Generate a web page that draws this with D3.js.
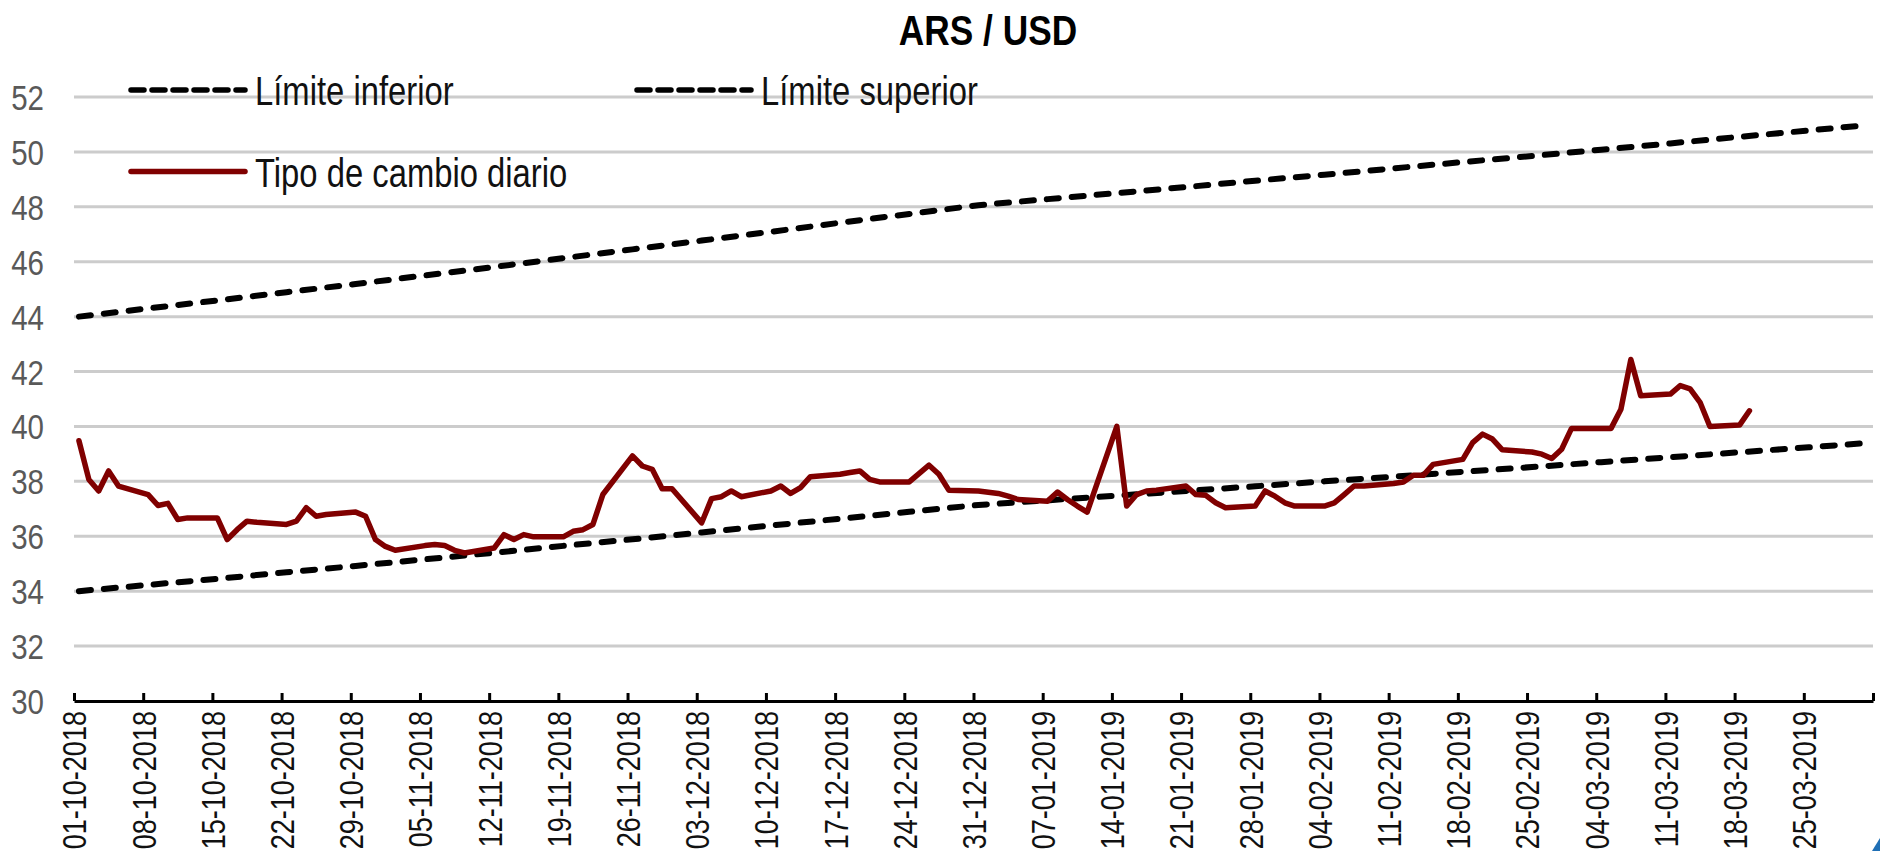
<!DOCTYPE html>
<html>
<head>
<meta charset="utf-8">
<script src="https://cdn.jsdelivr.net/npm/d3@7"></script>
<style>
html,body{margin:0;padding:0;background:#fff;}
svg{display:block;}
text{font-family:"Liberation Sans",Arial,"Noto Sans",sans-serif;}
</style>
</head>
<body>
<svg id="chart" width="1880" height="851"></svg>
<script>
// ---------- DATA ----------
const chartTitle = "ARS / USD";
const seriesNames = ["Límite inferior", "Límite superior", "Tipo de cambio diario"];

const rateDates = ["01-10-2018","02-10-2018","03-10-2018","04-10-2018","05-10-2018",
"08-10-2018","09-10-2018","10-10-2018","11-10-2018","12-10-2018",
"15-10-2018","16-10-2018","17-10-2018","18-10-2018","19-10-2018",
"22-10-2018","23-10-2018","24-10-2018","25-10-2018","26-10-2018",
"29-10-2018","30-10-2018","31-10-2018","01-11-2018","02-11-2018",
"05-11-2018","06-11-2018","07-11-2018","08-11-2018","09-11-2018",
"12-11-2018","13-11-2018","14-11-2018","15-11-2018","16-11-2018",
"19-11-2018","20-11-2018","21-11-2018","22-11-2018","23-11-2018",
"26-11-2018","27-11-2018","28-11-2018","29-11-2018","30-11-2018",
"03-12-2018","04-12-2018","05-12-2018","06-12-2018","07-12-2018",
"10-12-2018","11-12-2018","12-12-2018","13-12-2018","14-12-2018",
"17-12-2018","18-12-2018","19-12-2018","20-12-2018","21-12-2018",
"24-12-2018","26-12-2018","27-12-2018","28-12-2018",
"31-12-2018","02-01-2019","03-01-2019","04-01-2019",
"07-01-2019","08-01-2019","09-01-2019","10-01-2019","11-01-2019",
"14-01-2019","15-01-2019","16-01-2019","17-01-2019","18-01-2019",
"21-01-2019","22-01-2019","23-01-2019","24-01-2019","25-01-2019",
"28-01-2019","29-01-2019","30-01-2019","31-01-2019","01-02-2019",
"04-02-2019","05-02-2019","06-02-2019","07-02-2019","08-02-2019",
"11-02-2019","12-02-2019","13-02-2019","14-02-2019","15-02-2019",
"18-02-2019","19-02-2019","20-02-2019","21-02-2019","22-02-2019",
"25-02-2019","26-02-2019","27-02-2019","28-02-2019","01-03-2019",
"04-03-2019","05-03-2019","06-03-2019","07-03-2019","08-03-2019",
"11-03-2019","12-03-2019","13-03-2019","14-03-2019","15-03-2019",
"18-03-2019","19-03-2019"];

const rateValues = [39.48,38.07,37.65,38.38,37.83,
37.52,37.12,37.20,36.61,36.67,
36.67,35.88,36.24,36.55,36.51,
36.43,36.55,37.04,36.73,36.79,
36.88,36.73,35.88,35.63,35.49,
35.66,35.70,35.66,35.49,35.39,
35.57,36.06,35.88,36.06,35.98,
35.98,36.18,36.24,36.43,37.52,
38.93,38.56,38.44,37.73,37.73,
36.49,37.37,37.44,37.65,37.44,
37.65,37.83,37.56,37.77,38.17,
38.26,38.32,38.38,38.07,37.98,
37.98,38.59,38.26,37.68,
37.65,37.56,37.46,37.34,
37.28,37.61,37.34,37.10,36.88,
40.00,37.10,37.52,37.65,37.68,
37.83,37.52,37.49,37.22,37.04,
37.10,37.65,37.46,37.22,37.10,
37.10,37.22,37.52,37.83,37.83,
37.92,37.98,38.22,38.22,38.62,
38.80,39.41,39.72,39.54,39.15,
39.07,38.99,38.83,39.17,39.93,
39.93,39.93,40.63,42.44,41.12,
41.18,41.49,41.37,40.88,40.00,
40.05,40.57];

const bandDates = ["01-10-2018","08-10-2018","15-10-2018","22-10-2018","29-10-2018",
"05-11-2018","12-11-2018","19-11-2018","26-11-2018","03-12-2018","10-12-2018",
"17-12-2018","24-12-2018","31-12-2018","07-01-2019","14-01-2019","21-01-2019",
"28-01-2019","04-02-2019","11-02-2019","18-02-2019","25-02-2019","04-03-2019",
"11-03-2019","18-03-2019","25-03-2019","31-03-2019"];
const lowerBand = [34.00,34.23,34.45,34.69,34.92,35.16,35.40,35.65,35.89,36.14,36.39,
36.64,36.89,37.14,37.31,37.48,37.65,37.82,38.00,38.17,38.35,38.52,38.70,38.88,39.06,39.24,39.40];
const upperBand = [44.00,44.30,44.59,44.89,45.19,45.50,45.81,46.13,46.45,46.77,47.09,
47.42,47.74,48.06,48.28,48.50,48.72,48.95,49.17,49.40,49.63,49.85,50.08,50.31,50.55,50.78,50.98];

const yTickValues = [30,32,34,36,38,40,42,44,46,48,50,52];
const xTickLabels = ["01-10-2018","08-10-2018","15-10-2018","22-10-2018","29-10-2018",
"05-11-2018","12-11-2018","19-11-2018","26-11-2018","03-12-2018","10-12-2018",
"17-12-2018","24-12-2018","31-12-2018","07-01-2019","14-01-2019","21-01-2019",
"28-01-2019","04-02-2019","11-02-2019","18-02-2019","25-02-2019","04-03-2019",
"11-03-2019","18-03-2019","25-03-2019"];
const axisStart = "01-10-2018";
const axisEnd = "01-04-2019";

// ---------- CHART ----------
const NARROW = 0.82; // Arial Narrow ≈ Arial compressed horizontally
const parse = d3.utcParse("%d-%m-%Y");
const svg = d3.select("#chart");
const L = 74, R = 1873, T = 97, B = 701;

const x = d3.scaleUtc().domain([parse(axisStart), parse(axisEnd)]).range([L, R]);
const y = d3.scaleLinear().domain([30, 52]).range([B, T]);
const mid = d => d3.utcHour.offset(parse(d), 12);

// gridlines
svg.append("g").selectAll("line")
  .data(yTickValues.filter(v => v > 30))
  .join("line")
  .attr("x1", L).attr("x2", R)
  .attr("y1", d => y(d)).attr("y2", d => y(d))
  .attr("stroke", "#cccccc").attr("stroke-width", 3);

// y labels
svg.append("g").selectAll("text")
  .data(yTickValues)
  .join("text")
  .attr("transform", d => `translate(44,${y(d)}) scale(${NARROW},1)`)
  .attr("dy", "0.36em")
  .attr("text-anchor", "end")
  .attr("font-size", 36).attr("fill", "#595959")
  .text(d => d);

// band lines
const bandLine = d3.line()
  .x((d, i) => x(mid(bandDates[i])))
  .y(d => y(d));
[lowerBand, upperBand].forEach(arr => {
  svg.append("path").datum(arr)
    .attr("d", bandLine)
    .attr("fill", "none").attr("stroke", "#000").attr("stroke-width", 6)
    .attr("stroke-dasharray", "12,13").attr("stroke-linecap", "round");
});

// rate line
const rateLine = d3.line()
  .x((d, i) => x(mid(rateDates[i])))
  .y(d => y(d));
svg.append("path").datum(rateValues)
  .attr("d", rateLine)
  .attr("fill", "none").attr("stroke", "#800000").attr("stroke-width", 5.5)
  .attr("stroke-linejoin", "round").attr("stroke-linecap", "round");

// x axis
const tickDates = xTickLabels.map(parse).concat([parse(axisEnd)]);
const xAxis = d3.axisBottom(x)
  .tickValues(tickDates)
  .tickSize(-8).tickSizeOuter(0)
  .tickFormat((d, i) => i < xTickLabels.length ? xTickLabels[i] : "");
const gx = svg.append("g").attr("transform", `translate(0,${B})`).call(xAxis);
gx.select(".domain").attr("stroke", "#000").attr("stroke-width", 3);
gx.selectAll(".tick line").attr("stroke", "#000").attr("stroke-width", 3);
gx.selectAll(".tick text")
  .attr("transform", `rotate(-90) translate(-10,0) scale(${NARROW},1)`)
  .attr("x", 0).attr("y", 0).attr("dy", "0.36em")
  .attr("text-anchor", "end")
  .attr("font-size", 33).attr("fill", "#111")
  .style("font-family", '"Liberation Sans",Arial,sans-serif');

// title
svg.append("text")
  .attr("transform", `translate(988,45) scale(${NARROW},1)`)
  .attr("text-anchor", "middle")
  .attr("font-size", 43).attr("font-weight", "bold").attr("fill", "#000")
  .text(chartTitle);

// legend
const legend = [
  {name: seriesNames[0], x: 129, y: 90, dash: true},
  {name: seriesNames[1], x: 635, y: 90, dash: true},
  {name: seriesNames[2], x: 129, y: 171.5, dash: false}
];
const lg = svg.append("g");
legend.forEach(d => {
  const l = lg.append("line")
    .attr("x1", d.x + 2).attr("x2", d.x + 116).attr("y1", d.y).attr("y2", d.y)
    .attr("stroke-width", 5.5).attr("stroke-linecap", "round");
  if (d.dash) l.attr("stroke", "#000").attr("stroke-dasharray", "13,8");
  else l.attr("stroke", "#800000");
  lg.append("text")
    .attr("transform", `translate(${d.x + 126},${d.y + 15}) scale(${NARROW},1)`)
    .attr("font-size", 40).attr("fill", "#111")
    .text(d.name);
});

// corner mark
svg.append("path").attr("d", "M1872,851 L1880,838 L1880,851 Z").attr("fill", "#1f6fb5");
</script>
</body>
</html>
